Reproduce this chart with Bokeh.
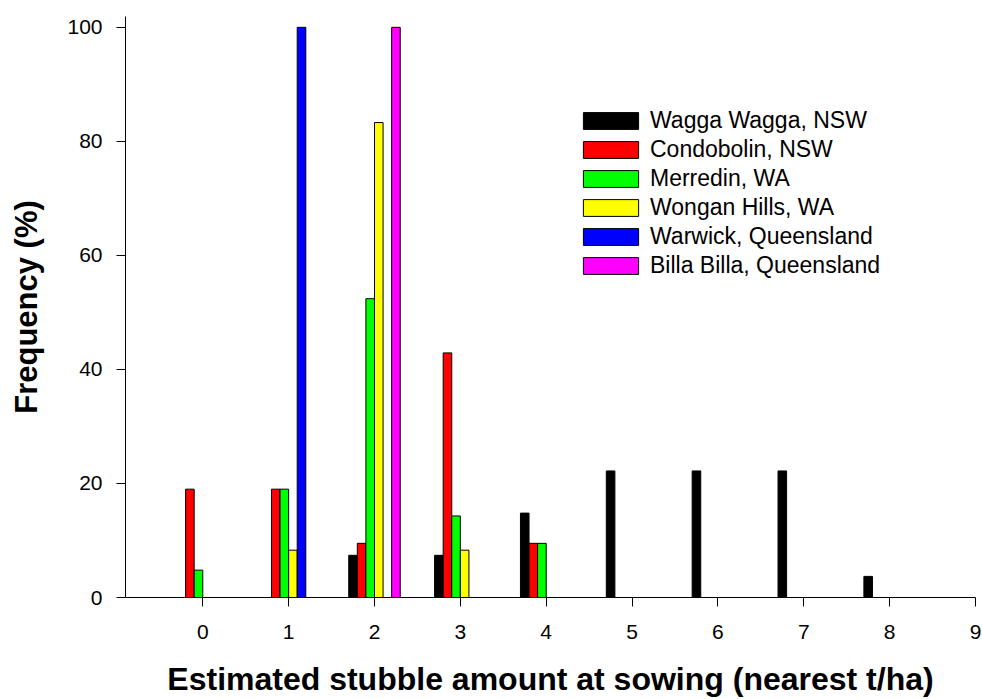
from bokeh.plotting import figure
from bokeh.models import ColumnDataSource, Range1d, FixedTicker, Legend, LegendItem
from bokeh.transform import dodge
from bokeh.embed import file_html
from bokeh.resources import INLINE

stubble = [0, 1, 2, 3, 4, 5, 6, 7, 8]
wagga = [0, 0, 7.4, 7.4, 14.8, 22.2, 22.2, 22.2, 3.7]
condobolin = [19.0, 19.0, 9.5, 42.9, 9.5, 0, 0, 0, 0]
merredin = [4.8, 19.0, 52.4, 14.3, 9.5, 0, 0, 0, 0]
wongan = [0, 8.3, 83.3, 8.3, 0, 0, 0, 0, 0]
warwick = [0, 100, 0, 0, 0, 0, 0, 0, 0]
billa = [0, 0, 100, 0, 0, 0, 0, 0, 0]

series_names = ["Wagga Wagga, NSW", "Condobolin, NSW", "Merredin, WA",
                "Wongan Hills, WA", "Warwick, Queensland", "Billa Billa, Queensland"]
series_keys = ["wagga", "condobolin", "merredin", "wongan", "warwick", "billa"]
colors = ["#000000", "#ff0000", "#00ff00", "#ffff00", "#0000ff", "#ff00ff"]
offsets = [-0.25, -0.15, -0.05, 0.05, 0.15, 0.25]
x_ticks = [0, 1, 2, 3, 4, 5, 6, 7, 8, 9]
y_ticks = [0, 20, 40, 60, 80, 100]

source = ColumnDataSource(dict(x=stubble, wagga=wagga, condobolin=condobolin,
                               merredin=merredin, wongan=wongan,
                               warwick=warwick, billa=billa))

p = figure(width=982, height=699, output_backend="svg", toolbar_location=None,
           x_range=Range1d(-0.9, 9.0), y_range=Range1d(0, 101.9),
           min_border_left=125, min_border_right=7, min_border_top=16,
           min_border_bottom=101)

items = []
for key, name, col, off in zip(series_keys, series_names, colors, offsets):
    r = p.vbar(x=dodge("x", off, range=p.x_range), top=key, width=0.1, bottom=0,
               source=source, fill_color=col, line_color="black", line_width=1)
    items.append(LegendItem(label=name, renderers=[r]))

legend = Legend(items=items, location=(451, 318))
legend.border_line_color = None
legend.background_fill_alpha = 0
legend.padding = 0
legend.margin = 0
legend.spacing = 2
legend.glyph_width = 69
legend.glyph_height = 21
legend.label_standoff = 5
legend.label_text_font = "Liberation Sans"
legend.label_text_font_size = "23px"
legend.label_text_color = "black"
legend.label_height = 25
p.add_layout(legend, "center")

p.xgrid.grid_line_color = None
p.ygrid.grid_line_color = None
p.outline_line_color = None

for ax in (p.xaxis[0], p.yaxis[0]):
    ax.axis_line_color = "black"
    ax.axis_line_width = 1
    ax.major_tick_line_color = "black"
    ax.major_tick_out = 9
    ax.major_tick_in = 0
    ax.minor_tick_line_color = None
    ax.major_label_text_font = "Liberation Sans"
    ax.major_label_text_font_size = "21px"
    ax.major_label_text_color = "black"
    ax.axis_label_text_font = "Liberation Sans"
    ax.axis_label_text_font_style = "bold"
    ax.axis_label_text_color = "black"

p.xaxis.axis_label_text_font_size = "32px"
p.yaxis.axis_label_text_font_size = "31px"
p.xaxis.ticker = FixedTicker(ticks=x_ticks)
p.yaxis.ticker = FixedTicker(ticks=y_ticks)
p.xaxis.axis_label = "Estimated stubble amount at sowing (nearest t/ha)"
p.yaxis.axis_label = "Frequency (%)"
p.xaxis.major_label_standoff = 18
p.yaxis.major_label_standoff = 14
p.xaxis.axis_label_standoff = 19
p.yaxis.axis_label_standoff = 20

open("out.html", "w").write(file_html(p, INLINE))
